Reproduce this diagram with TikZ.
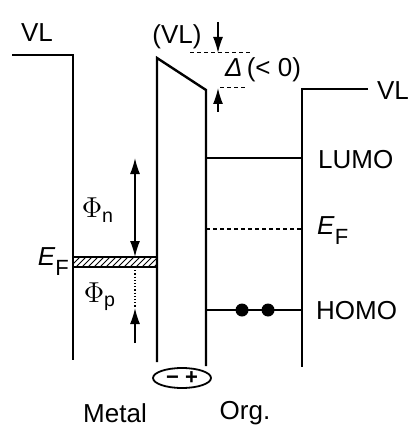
\documentclass[tikz,border=0pt]{standalone}
\usepackage{fontspec}
\setmainfont{Liberation Sans}
\usetikzlibrary{arrows.meta,patterns,shapes.geometric}

\begin{document}
\begin{tikzpicture}[x=0.5pt, y=-0.5pt, line width=1.2pt,
    lbl/.style={font=\fontsize{13}{15}\selectfont, inner sep=0pt},
    tip/.style={-{Latex[length=8pt,width=5pt]}},
    guide/.style={line width=0.5pt, dashed, dash pattern=on 2pt off 1.5pt}]

    \useasboundingbox (0,0) rectangle (410,427);

    % metal
    \coordinate (vlm) at (12,55);
    \coordinate (m1) at (73,55);
    \coordinate (m2) at (73,360);
    \draw (vlm) -- (m1) -- (m2);
    \draw [pattern=north east lines] (73,257) rectangle (157,267);
    \node [lbl, anchor=east] (efm) at (70,262) {\textit{E}\raisebox{-5pt}{\fontsize{11}{13}\selectfont F}};
    \node [lbl] (vltxt) at (37,33) {VL};

    % interface layer
    \coordinate (s1) at (157,58);
    \coordinate (s2) at (206,90);
    \coordinate (s3) at (157,362);
    \coordinate (s4) at (206,366);
    \draw (s3) -- (s1) -- (s2) -- (s4);
    \node [lbl] (vli) at (177,37) {(VL)};
    \node [draw, ellipse, line width=0.9pt, minimum width=29pt, minimum height=10pt, inner sep=0pt,
        font=\fontsize{11}{12}\selectfont\bfseries] (dip) at (182,378) {− +};

    % organic
    \coordinate (o1) at (302,89);
    \coordinate (o2) at (302,367);
    \coordinate (vlo) at (368,89);
    \draw (vlo) -- (o1) -- (o2);
    \node [lbl] (vlotxt) at (393,91) {VL};

    \draw (206,158) -- (302,158);
    \node [lbl, anchor=west] (lumo) at (317,160) {LUMO};
    \draw [line width=0.9pt, dash pattern=on 2pt off 1.5pt] (206,229) -- (302,229);
    \node [lbl, anchor=west] (efo) at (316,231) {\textit{E}\raisebox{-5pt}{\fontsize{11}{13}\selectfont F}};
    \draw (206,310) -- (302,310);
    \foreach \x in {242, 268}{
        \fill (\x,310) circle (6.5);
    }
    \node [lbl, anchor=west] (homo) at (315,311) {HOMO};

    % barrier heights
    \coordinate (pn1) at (135,158);
    \coordinate (pn2) at (135,257);
    \draw [line width=0.8pt, {Latex[length=8pt,width=5pt]}-{Latex[length=8pt,width=5pt]}] (pn1) -- (pn2);
    \node [font=\fontsize{14}{16}\selectfont] (phin) at (98,210) {$\Phi_{\mathrm{n}}$};
    \coordinate (pp1) at (135,343);
    \coordinate (pp2) at (135,308);
    \draw [tip, line width=0.8pt] (pp1) -- (pp2);
    \draw [line width=0.6pt, densely dotted] (135,267) -- (pp2);
    \node [font=\fontsize{14}{16}\selectfont] (phip) at (100,297) {$\Phi_{\mathrm{p}}$};

    % dipole
    \draw [guide] (190,53) -- (250,53);
    \draw [guide] (220,88) -- (245,88);
    \draw [tip, line width=0.8pt] (218,22) -- (218,53);
    \draw [tip, line width=0.8pt] (218,112) -- (218,88);
    \node [lbl] (delta) at (263,70) {\textit{Δ}\,(< 0)};

    \node [lbl] (metal) at (115,413) {Metal};
    \node [lbl] (org) at (245,413) {Org.};
\end{tikzpicture}
\end{document}
